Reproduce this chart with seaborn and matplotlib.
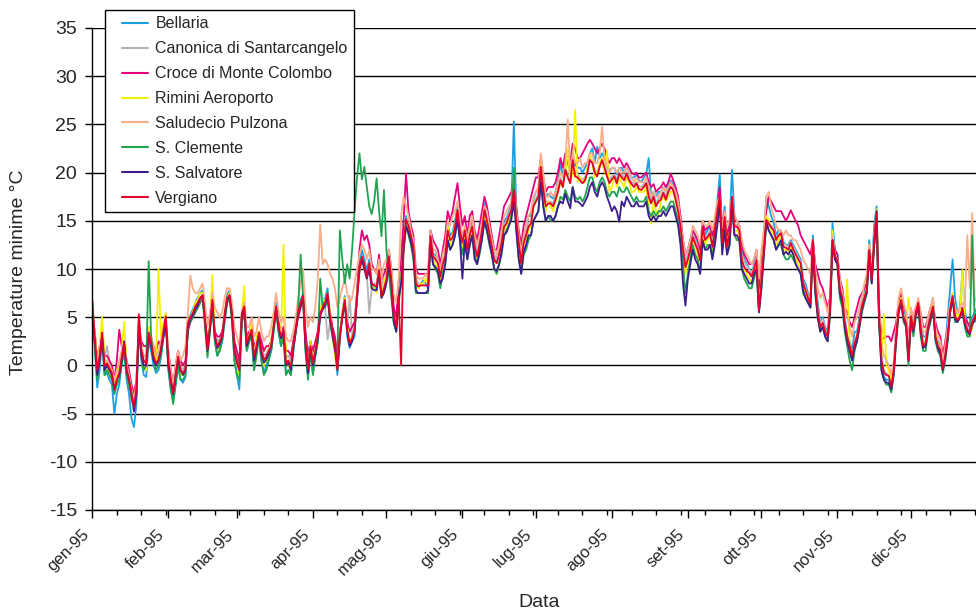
import numpy as np
import pandas as pd
import matplotlib
matplotlib.use("Agg")
import matplotlib.pyplot as plt
import matplotlib.dates as mdates
import matplotlib.transforms as mtransforms
from matplotlib.lines import Line2D
from matplotlib.legend_handler import HandlerLine2D
import seaborn as sns

# Daily minimum temperatures (°C), 1 Jan 1995 .. 31 Dec 1995
stations = [
    "Bellaria",
    "Canonica di Santarcangelo",
    "Croce di Monte Colombo",
    "Rimini Aeroporto",
    "Saludecio Pulzona",
    "S. Clemente",
    "S. Salvatore",
    "Vergiano",
]
station_colors = ["#1ba1e2", "#b4b4b4", "#e6007e", "#f2f200",
                  "#f9ae8a", "#22a352", "#3c1f8c", "#e4002b"]
month_labels = ["gen-95", "feb-95", "mar-95", "apr-95", "mag-95", "giu-95",
                "lug-95", "ago-95", "set-95", "ott-95", "nov-95", "dic-95"]

bellaria = [
    6.5, 2.0, -2.3, -0.5, 2.8, -1.0, -0.8, -1.5, -2.0, -5.0,
    -3.0, -2.0, 0.3, 1.5, -1.5, -3.0, -5.5, -6.4, -4.0, 4.5,
    0.5, -1.0, -1.2, 2.5, 1.5, 0.0, -0.8, -0.5, 0.8, 3.0,
    4.8, -0.5, -2.5, -3.5, -2.0, 0.0, -1.5, -1.8, -1.2, 4.0,
    5.2, 5.8, 6.5, 7.0, 7.5, 7.8, 4.5, 0.8, 3.8, 7.0,
    2.5, 1.0, 1.8, 2.5, 5.0, 7.3, 7.8, 5.0, 0.5, -1.0,
    -2.5, 5.0, 6.5, 1.5, 2.5, 3.5, -0.5, 1.5, 3.0, 0.5,
    -0.8, 0.0, 1.0, 1.5, 3.8, 6.5, 3.5, 2.0, 3.2, -0.8,
    -0.5, -1.0, 1.5, 3.5, 5.5, 6.8, 7.5, 1.5, -1.0, 1.5,
    -0.8, 1.0, 2.5, 5.0, 6.3, 7.0, 8.0, 4.5, 3.0, 1.5,
    -1.0, 3.0, 5.5, 7.2, 3.0, 1.8, 2.5, 3.0, 7.5, 10.5,
    12.0, 11.0, 9.8, 11.0, 8.5, 8.0, 8.0, 10.5, 7.0, 8.0,
    9.5, 12.0, 9.0, 4.5, 3.5, 7.5, 9.5, 12.5, 15.5, 14.0,
    13.8, 12.5, 8.3, 8.0, 8.5, 8.8, 8.5, 8.0, 14.0, 11.5,
    11.5, 11.0, 9.0, 10.8, 11.5, 14.6, 13.5, 13.8, 15.0, 16.5,
    14.5, 13.0, 14.2, 12.5, 14.0, 15.0, 13.0, 11.5, 12.5, 14.5,
    16.8, 15.5, 14.0, 12.5, 11.0, 10.8, 12.0, 13.5, 15.0, 15.3,
    16.0, 16.8, 25.3, 16.0, 13.5, 11.0, 13.5, 14.5, 15.5, 15.5,
    17.3, 18.0, 18.3, 21.0, 19.0, 17.5, 17.8, 17.5, 17.3, 18.0,
    19.2, 21.0, 19.5, 22.0, 21.0, 20.0, 22.0, 20.8, 20.5, 20.5,
    20.0, 20.5, 21.0, 22.0, 22.5, 21.0, 22.7, 21.5, 22.0, 21.5,
    21.0, 20.0, 20.5, 20.5, 19.8, 20.5, 20.5, 20.0, 20.5, 20.0,
    19.5, 19.5, 19.8, 19.2, 19.0, 19.5, 19.8, 21.5, 17.5, 18.0,
    17.5, 18.0, 18.0, 18.5, 18.0, 18.8, 19.2, 18.8, 18.0, 17.0,
    15.0, 13.0, 11.5, 12.0, 13.0, 14.0, 13.5, 12.5, 11.5, 15.0,
    13.5, 14.0, 14.5, 13.0, 15.0, 17.0, 19.8, 13.5, 16.5, 13.0,
    14.5, 20.3, 15.5, 15.0, 14.5, 12.0, 11.0, 10.5, 10.0, 9.5,
    10.5, 11.5, 6.5, 9.5, 13.0, 17.5, 16.5, 15.5, 14.8, 13.5,
    14.0, 14.0, 12.8, 12.5, 12.5, 13.0, 12.5, 12.0, 11.5, 11.0,
    9.0, 8.5, 7.5, 7.0, 13.5, 9.0, 6.5, 4.5, 5.0, 4.0,
    3.5, 6.5, 14.8, 12.0, 11.5, 8.5, 7.5, 5.0, 3.0, 2.5,
    1.5, 3.5, 3.5, 5.0, 6.5, 7.5, 8.5, 13.0, 9.5, 14.5,
    16.5, 5.5, 0.0, -1.2, -1.5, -1.5, -2.5, -0.2, 4.0, 6.5,
    7.5, 6.0, 5.0, 1.0, 5.5, 4.5, 5.0, 6.0, 4.5, 3.0,
    3.0, 4.5, 5.5, 7.0, 3.5, 2.5, 2.0, 0.0, 2.0, 5.0,
    8.0, 11.0, 7.0, 5.5, 6.0, 9.8, 5.5, 4.5, 4.0, 5.0,
    5.5, 6.0, 5.0, 5.5, 5.0,
]

canonica = [
    5.5, 3.5, 0.0, 1.5, 3.0, 0.8, 2.0, 0.5, -0.5, -2.0,
    -1.0, -0.3, 1.0, 2.0, 0.0, -1.0, -2.5, -3.8, -2.0, 4.5,
    2.0, 1.0, 0.8, 3.0, 2.5, 1.5, 0.5, 1.0, 2.0, 3.0,
    4.5, 1.0, -1.0, -2.5, -0.8, 1.2, 0.0, -0.5, 0.0, 4.0,
    5.0, 5.2, 6.0, 6.3, 6.8, 7.0, 5.0, 2.0, 4.2, 6.5,
    3.5, 2.5, 2.8, 3.2, 5.2, 6.8, 7.0, 5.5, 2.0, 1.0,
    0.2, 5.0, 6.0, 2.8, 3.2, 3.8, 1.5, 2.3, 3.5, 2.0,
    1.0, 1.2, 1.8, 2.5, 4.2, 6.0, 4.2, 3.3, 3.8, 0.8,
    1.0, 0.5, 2.3, 4.0, 5.5, 6.3, 7.0, 3.0, 0.2, 2.5,
    1.0, 2.0, 3.5, 5.5, 6.0, 6.0, 2.7, 4.5, 3.5, 2.5,
    0.5, 3.5, 5.0, 6.5, 4.0, 7.2, 3.0, 4.0, 7.0, 9.5,
    11.0, 10.0, 9.5, 5.4, 8.0, 8.5, 8.5, 10.0, 8.0, 9.5,
    10.0, 11.0, 9.0, 5.5, 4.5, 7.5, 9.0, 12.0, 14.5, 14.0,
    13.0, 12.0, 9.0, 8.5, 8.5, 8.5, 8.8, 9.0, 13.0, 11.5,
    11.2, 10.8, 9.5, 10.8, 11.5, 14.0, 13.2, 13.5, 14.5, 16.0,
    14.5, 13.0, 14.0, 12.3, 13.8, 14.5, 12.8, 11.8, 12.8, 14.2,
    16.0, 15.2, 14.0, 12.8, 11.5, 11.0, 12.0, 13.0, 14.5, 15.0,
    15.8, 16.5, 18.0, 15.5, 13.0, 11.2, 13.0, 14.0, 14.8, 15.0,
    16.8, 17.3, 17.8, 20.5, 18.5, 17.0, 17.0, 17.0, 16.8, 17.5,
    18.3, 19.5, 18.8, 20.5, 19.8, 19.2, 21.0, 20.0, 19.8, 19.5,
    19.3, 19.5, 20.2, 21.5, 21.2, 20.3, 20.0, 20.8, 21.5, 20.8,
    20.0, 19.3, 19.6, 19.8, 19.3, 20.0, 19.8, 19.5, 20.0, 19.5,
    19.0, 18.8, 19.0, 18.6, 18.5, 18.8, 19.0, 17.8, 17.2, 17.8,
    16.8, 17.3, 17.5, 18.0, 17.5, 18.2, 18.6, 18.4, 17.5, 16.3,
    14.8, 12.5, 10.8, 11.5, 12.3, 13.5, 13.0, 12.3, 11.3, 14.5,
    13.3, 13.5, 14.0, 12.8, 14.2, 16.0, 17.0, 13.0, 15.5, 12.8,
    14.0, 17.0, 14.6, 14.6, 14.3, 11.5, 10.8, 10.3, 10.0, 9.6,
    10.3, 11.0, 6.5, 9.0, 12.3, 15.0, 14.8, 14.5, 14.2, 13.3,
    13.6, 13.8, 12.6, 12.5, 12.3, 12.8, 12.3, 11.8, 11.2, 10.8,
    8.8, 8.0, 7.3, 6.8, 12.5, 8.5, 6.0, 4.5, 4.8, 3.8,
    3.2, 6.0, 13.0, 11.5, 11.0, 8.2, 7.2, 4.8, 3.2, 2.0,
    0.5, 2.5, 3.2, 4.6, 6.3, 7.2, 8.0, 12.3, 9.0, 13.2,
    15.5, 5.5, 1.0, -0.5, -0.8, -1.0, -2.0, -0.2, 3.3, 6.0,
    7.0, 5.3, 4.6, 1.0, 5.3, 4.0, 5.6, 6.6, 4.0, 2.3,
    2.6, 4.2, 5.3, 6.3, 3.3, 2.3, 1.8, 0.0, 1.3, 3.3,
    6.5, 7.5, 5.2, 5.0, 5.3, 6.0, 4.8, 4.0, 3.6, 4.6,
    5.2, 5.6, 5.0, 5.2, 4.6,
]

croce = [
    5.0, 3.5, 0.5, 2.0, 3.5, 1.0, 1.0, 0.5, 0.0, -1.5,
    0.5, 3.7, 2.0, 2.5, 0.5, -0.5, -2.0, -3.0, -1.5, 4.0,
    2.5, 2.0, 2.0, 3.0, 2.8, 2.0, 1.5, 2.5, 2.0, 3.0,
    4.0, 1.5, -0.5, -2.0, 0.0, 1.5, 0.5, 0.0, 0.5, 3.5,
    4.5, 5.0, 5.5, 6.0, 6.5, 7.0, 5.0, 2.5, 4.0, 6.0,
    3.5, 3.0, 3.0, 3.5, 5.0, 6.5, 7.0, 5.5, 2.5, 1.5,
    0.5, 4.5, 5.5, 3.0, 3.5, 4.0, 2.0, 2.5, 3.5, 2.5,
    1.5, 2.0, 2.0, 2.5, 4.0, 5.5, 4.5, 3.5, 4.0, 1.5,
    1.5, 1.0, 2.5, 4.0, 5.0, 6.0, 7.0, 3.5, 1.0, 2.5,
    1.5, 2.5, 3.5, 5.5, 6.0, 6.5, 7.0, 5.5, 4.0, 3.0,
    1.0, 3.5, 5.0, 6.5, 4.5, 3.5, 4.0, 4.5, 7.5, 12.0,
    14.0, 13.0, 13.5, 12.5, 10.5, 10.0, 9.5, 11.5, 9.0, 9.5,
    10.0, 12.0, 10.0, 6.0, 5.0, 8.5, 11.0, 15.0, 19.9, 16.0,
    14.5, 13.5, 10.0, 9.5, 9.5, 9.5, 9.5, 9.5, 14.0, 13.0,
    12.5, 12.0, 10.5, 12.0, 13.5, 16.0, 15.0, 16.0, 17.5, 18.9,
    16.5, 14.5, 15.5, 13.5, 15.5, 16.0, 14.0, 13.0, 14.5, 16.0,
    17.5, 16.5, 15.0, 13.5, 12.0, 12.0, 13.5, 15.0, 16.5, 17.0,
    17.5, 18.0, 19.5, 16.5, 14.0, 12.5, 14.5, 15.5, 16.5, 17.5,
    18.5, 19.5, 19.5, 21.5, 19.5, 18.0, 18.5, 18.5, 18.5, 19.0,
    20.0, 21.5, 20.5, 22.0, 22.0, 21.0, 23.0, 22.5, 21.5, 21.5,
    22.0, 22.5, 23.0, 23.4, 23.0, 22.5, 22.0, 22.5, 23.0, 22.5,
    21.5, 21.0, 21.5, 21.5, 21.0, 21.5, 21.0, 20.5, 21.0, 20.5,
    20.0, 19.8, 20.0, 19.5, 19.5, 19.8, 20.0, 19.0, 18.5, 18.8,
    18.0, 18.3, 18.5, 19.0, 18.5, 19.0, 19.9, 19.2, 18.5, 17.5,
    15.5, 13.0, 11.5, 12.0, 13.0, 14.0, 13.5, 13.0, 12.0, 15.0,
    14.0, 14.3, 14.5, 13.5, 15.0, 16.5, 18.5, 14.0, 16.0, 13.5,
    14.5, 17.0, 15.0, 15.0, 14.5, 12.5, 11.5, 11.0, 10.5, 10.5,
    11.0, 12.0, 8.0, 11.0, 13.5, 16.0, 17.5, 17.0, 16.5, 16.0,
    16.0, 16.0, 15.5, 15.0, 15.5, 16.1, 15.5, 15.0, 14.5, 13.5,
    13.0, 12.5, 12.0, 11.5, 13.0, 10.5, 9.5, 8.5, 8.0, 7.0,
    6.0, 7.0, 13.0, 12.0, 11.5, 9.0, 8.0, 6.0, 5.5, 4.5,
    4.0, 5.0, 6.0, 7.0, 7.5, 8.0, 8.5, 11.5, 9.5, 12.5,
    15.0, 6.0, 3.0, 2.8, 3.0, 3.0, 2.5, 3.5, 4.5, 6.5,
    7.5, 6.0, 5.5, 2.5, 5.5, 5.0, 6.0, 6.5, 5.5, 4.0,
    4.0, 5.0, 6.0, 6.5, 4.5, 3.5, 3.0, 1.0, 2.5, 4.0,
    6.0, 6.5, 5.5, 5.0, 5.5, 6.0, 5.0, 4.5, 4.0, 4.5,
    5.0, 5.5, 5.0, 5.0, 4.8,
]

rimini = [
    6.0, 3.5, 0.0, 2.0, 5.0, 1.0, 0.0, -1.0, -1.0, -2.0,
    -1.0, 0.0, 1.5, 4.5, 0.0, -1.5, -3.5, -4.0, -2.0, 4.5,
    1.0, 0.0, -0.5, 4.0, 3.0, 1.5, 0.5, 10.0, 3.0, 4.5,
    5.5, 1.0, -1.5, -2.5, -1.0, 1.0, -1.0, -1.0, -0.5, 4.5,
    5.0, 5.5, 6.5, 6.8, 7.5, 7.5, 4.0, 1.0, 4.5, 9.4,
    3.0, 1.5, 2.5, 3.0, 5.5, 7.0, 7.5, 5.0, 1.0, 0.0,
    -1.0, 5.5, 8.2, 2.0, 3.0, 4.5, 0.5, 3.0, 3.5, 1.0,
    0.0, 0.5, 1.5, 2.5, 4.5, 6.0, 4.0, 3.0, 12.5, 0.5,
    0.0, -0.5, 2.0, 3.5, 5.5, 6.5, 7.0, 2.0, -0.5, 2.5,
    0.0, 1.5, 3.0, 5.5, 7.0, 6.5, 7.5, 5.5, 3.0, 1.0,
    -0.5, 3.0, 5.5, 7.0, 4.0, 2.5, 3.0, 3.5, 7.5, 10.0,
    11.0, 10.5, 9.0, 10.5, 8.0, 8.0, 7.5, 10.5, 7.0, 8.5,
    9.5, 11.0, 8.5, 4.5, 3.5, 6.5, 9.0, 12.0, 15.0, 14.0,
    13.0, 12.0, 8.0, 8.0, 8.5, 8.5, 9.0, 8.5, 13.0, 11.0,
    10.5, 10.0, 9.0, 10.5, 11.0, 14.5, 12.5, 13.5, 14.5, 16.0,
    13.5, 12.0, 13.5, 11.5, 13.0, 14.5, 11.5, 11.0, 12.0, 13.5,
    15.5, 14.5, 13.0, 12.0, 10.0, 9.5, 10.5, 12.0, 14.5, 14.0,
    15.0, 16.0, 18.5, 15.0, 12.0, 10.5, 12.5, 13.0, 14.0, 14.5,
    16.5, 17.0, 17.5, 21.5, 18.5, 16.0, 17.0, 16.5, 16.0, 17.0,
    18.0, 19.0, 18.5, 20.0, 22.5, 19.0, 20.0, 26.5, 19.0, 19.5,
    19.0, 19.0, 20.5, 22.0, 21.0, 19.5, 20.0, 21.0, 21.5, 20.0,
    22.3, 18.0, 18.5, 19.5, 18.5, 19.5, 19.0, 18.5, 19.5, 19.0,
    18.0, 18.0, 18.5, 18.0, 18.0, 18.0, 18.5, 16.5, 14.7, 17.0,
    16.0, 15.6, 17.0, 17.5, 17.0, 17.5, 18.0, 18.0, 17.0, 16.0,
    14.0, 11.5, 9.5, 10.5, 11.5, 13.0, 12.5, 11.5, 10.5, 14.0,
    12.5, 13.0, 13.5, 12.0, 13.5, 16.5, 17.0, 12.5, 15.5, 12.0,
    13.5, 17.0, 14.0, 14.0, 13.5, 10.5, 10.0, 9.5, 9.0, 8.5,
    9.5, 10.5, 6.0, 9.0, 12.5, 15.5, 15.0, 14.0, 13.5, 12.5,
    13.0, 13.5, 12.0, 12.0, 11.5, 12.5, 11.5, 11.0, 10.5, 10.0,
    8.0, 7.5, 6.5, 6.0, 12.5, 8.0, 5.0, 3.5, 4.0, 3.0,
    2.5, 6.0, 14.0, 11.0, 10.5, 7.5, 6.5, 4.5, 8.9, 2.0,
    1.0, 2.0, 2.5, 4.0, 6.0, 7.0, 8.0, 12.5, 9.5, 13.0,
    16.2, 5.5, 1.0, 5.3, 0.0, -0.5, -2.0, 0.0, 3.0, 6.0,
    7.0, 5.0, 4.0, 7.0, 5.0, 4.0, 5.5, 6.5, 3.5, 2.0,
    2.5, 4.0, 5.0, 6.5, 3.5, 2.0, 1.5, -0.5, 1.0, 3.5,
    6.0, 7.5, 5.5, 5.0, 5.5, 9.9, 4.5, 3.5, 3.0, 4.0,
    5.0, 5.5, 4.5, 5.0, 4.5,
]

saludecio = [
    6.0, 3.0, 0.5, 1.5, 3.0, 0.5, 0.5, 0.0, -0.5, -1.5,
    -0.5, 0.5, 1.5, 2.5, 0.0, -1.0, -2.5, -3.5, -2.0, 5.0,
    2.0, 1.0, 1.0, 3.5, 3.0, 2.0, 1.0, 1.5, 2.5, 4.0,
    5.0, 1.5, -0.5, -2.0, 0.0, 1.5, 0.5, 1.0, 2.0, 5.5,
    9.3, 8.0, 7.5, 7.5, 8.0, 8.5, 6.5, 4.0, 5.5, 7.5,
    6.0, 5.5, 5.0, 5.5, 7.0, 8.0, 8.0, 6.5, 4.0, 3.0,
    2.0, 5.5, 6.5, 4.0, 4.0, 5.0, 3.0, 3.5, 5.0, 3.5,
    2.5, 3.0, 3.0, 4.0, 5.5, 7.5, 5.5, 4.5, 5.0, 3.0,
    2.5, 2.5, 3.5, 5.0, 7.0, 8.5, 10.0, 6.0, 4.0, 5.0,
    4.5, 6.0, 9.0, 14.6, 10.5, 11.0, 10.5, 9.5, 9.0, 8.0,
    6.0, 7.0, 8.0, 9.0, 7.5, 6.5, 7.0, 8.5, 10.0, 11.5,
    12.5, 12.0, 11.0, 12.0, 10.0, 10.0, 9.5, 11.0, 9.0, 10.5,
    11.0, 12.0, 10.0, 7.5, 6.5, 9.0, 15.5, 17.5, 16.5, 15.5,
    14.0, 13.0, 9.5, 9.0, 9.0, 9.0, 9.5, 9.0, 14.0, 12.0,
    12.0, 11.0, 10.0, 11.5, 12.5, 15.0, 14.5, 15.5, 16.0, 17.0,
    15.0, 13.5, 14.5, 13.0, 14.5, 15.5, 13.5, 12.5, 13.5, 15.0,
    16.5, 16.0, 14.5, 13.0, 12.0, 11.5, 12.5, 14.0, 15.5, 16.0,
    16.5, 17.0, 20.0, 16.0, 13.5, 11.5, 13.5, 14.5, 15.5, 16.0,
    17.5, 18.0, 18.5, 22.0, 20.0, 17.5, 17.5, 18.0, 17.5, 18.0,
    19.0, 20.0, 19.5, 21.0, 25.5, 20.0, 22.0, 21.0, 21.0, 21.5,
    20.5, 21.0, 21.0, 22.0, 22.0, 21.0, 21.0, 22.0, 24.8, 21.5,
    20.5, 20.0, 20.5, 20.5, 20.0, 20.5, 20.0, 20.0, 20.5, 20.0,
    19.5, 19.0, 19.5, 19.0, 19.0, 19.0, 19.5, 18.5, 17.5, 18.0,
    17.5, 17.5, 18.0, 18.5, 18.0, 18.5, 19.0, 18.5, 18.0, 17.0,
    15.0, 13.0, 11.5, 12.0, 13.0, 14.5, 14.0, 13.5, 12.5, 15.0,
    14.5, 14.5, 15.0, 14.0, 15.5, 17.0, 17.5, 14.0, 16.0, 14.5,
    15.0, 17.5, 15.5, 15.0, 14.5, 13.0, 12.0, 11.5, 11.0, 10.5,
    11.0, 12.0, 9.0, 12.0, 14.0, 17.5, 18.0, 16.5, 15.5, 14.5,
    14.0, 14.0, 13.5, 14.0, 13.5, 13.5, 13.0, 13.0, 12.5, 12.0,
    11.0, 10.5, 10.0, 9.5, 13.0, 10.0, 8.0, 7.0, 7.5, 6.5,
    5.5, 7.0, 13.5, 11.5, 11.0, 9.0, 7.5, 6.0, 5.0, 4.0,
    3.0, 4.5, 5.0, 6.0, 7.0, 8.5, 9.5, 12.5, 10.0, 13.5,
    15.5, 6.0, 2.0, 1.0, 0.5, 0.0, -1.0, 0.5, 4.0, 7.0,
    8.0, 6.5, 5.5, 2.0, 6.0, 5.0, 6.0, 7.0, 5.5, 3.5,
    3.5, 5.0, 6.0, 7.0, 4.0, 3.0, 2.5, 0.5, 2.0, 4.0,
    6.5, 7.0, 6.0, 5.5, 6.0, 6.5, 6.0, 13.5, 8.0, 15.8,
    7.0, 6.5, 6.0, 5.5, 5.0,
]

s_clemente = [
    5.5, 2.0, -1.5, 0.5, 3.0, -1.0, -0.5, -1.0, -1.5, -3.0,
    -2.0, -1.5, 0.0, 1.5, -1.0, -2.0, -3.5, -4.3, -3.0, 4.5,
    1.0, -0.5, 0.0, 10.8, 3.0, 0.5, -0.5, 0.0, 1.0, 3.0,
    4.5, 0.0, -2.5, -4.0, -2.0, 0.0, -1.5, -1.5, -1.0, 4.0,
    4.5, 5.0, 5.5, 6.0, 6.5, 7.0, 4.0, 1.0, 3.5, 6.0,
    2.5, 1.0, 1.5, 2.5, 4.5, 6.5, 7.0, 4.5, 0.5, -1.0,
    -1.5, 4.5, 5.5, 1.5, 2.5, 3.0, -0.5, 1.0, 3.0, 0.5,
    -1.0, -0.5, 0.5, 1.5, 3.5, 5.5, 3.5, 2.0, 3.0, -1.0,
    -0.5, -1.0, 1.5, 3.5, 6.0, 11.5, 7.0, 1.5, -1.5, 1.5,
    -1.0, 1.0, 2.5, 9.0, 6.0, 6.0, 7.0, 4.5, 3.0, 1.5,
    1.0, 14.0, 11.0, 8.5, 10.5, 9.0, 12.0, 16.0, 19.5, 22.0,
    19.3, 20.6, 18.5, 16.5, 15.7, 17.0, 19.4, 16.0, 13.4, 18.2,
    12.0, 9.5, 7.0, 4.5, 3.5, 6.5, 8.5, 12.0, 14.5, 13.5,
    12.5, 11.0, 7.5, 7.5, 7.5, 7.5, 7.5, 7.5, 12.5, 10.5,
    10.0, 9.5, 8.0, 9.5, 10.5, 13.0, 12.0, 12.5, 13.5, 15.0,
    13.0, 11.5, 13.0, 11.0, 12.5, 13.5, 11.5, 10.5, 11.5, 13.0,
    15.0, 14.0, 12.5, 11.5, 10.0, 9.5, 10.5, 11.5, 13.5, 14.0,
    14.5, 15.5, 20.5, 14.0, 11.0, 9.5, 11.5, 12.0, 13.0, 13.5,
    15.0, 15.5, 16.0, 19.5, 16.5, 15.0, 15.5, 15.0, 15.0, 15.5,
    16.5, 17.5, 17.2, 18.2, 17.5, 17.0, 18.5, 17.5, 17.2, 17.5,
    17.0, 17.5, 18.5, 19.5, 19.5, 18.5, 18.0, 19.0, 19.5, 19.0,
    18.0, 17.5, 18.0, 18.0, 17.5, 18.5, 18.0, 18.0, 18.5, 18.0,
    17.5, 17.0, 17.5, 17.0, 17.0, 17.0, 17.5, 16.0, 15.5, 16.0,
    15.5, 16.0, 16.0, 16.5, 16.0, 16.5, 17.0, 17.0, 16.0, 15.0,
    13.0, 10.5, 7.5, 9.5, 11.0, 12.5, 11.5, 11.0, 9.5, 13.0,
    12.0, 12.5, 12.5, 11.5, 13.0, 15.0, 16.5, 12.0, 14.5, 11.5,
    12.5, 16.5, 13.5, 13.0, 13.0, 10.0, 9.0, 8.5, 8.0, 8.0,
    9.0, 10.0, 5.5, 8.0, 11.5, 14.5, 14.0, 13.5, 13.0, 12.0,
    12.5, 12.5, 11.5, 11.0, 11.0, 11.5, 11.0, 10.5, 10.0, 9.5,
    7.5, 7.0, 6.5, 6.0, 12.0, 7.5, 5.0, 3.5, 4.0, 3.0,
    2.5, 5.0, 12.5, 11.0, 10.5, 7.0, 6.0, 3.5, 2.0, 0.5,
    -0.5, 1.5, 2.5, 4.0, 5.5, 6.5, 7.5, 11.5, 8.5, 12.5,
    15.0, 4.5, -0.5, -1.5, -2.0, -2.0, -2.8, -1.0, 2.5, 5.5,
    6.5, 4.5, 4.0, 0.0, 4.5, 3.0, 5.0, 6.0, 3.0, 1.5,
    1.5, 3.5, 4.5, 6.0, 2.5, 1.5, 1.0, -0.8, 0.5, 2.5,
    5.5, 7.0, 4.5, 4.5, 5.0, 5.5, 4.0, 3.0, 3.0, 13.5,
    4.5, 5.0, 4.5, 4.5, 4.0,
]

s_salvatore = [
    5.0, 2.5, -1.0, 0.5, 3.0, -0.5, 0.0, -0.5, -1.0, -2.5,
    -1.5, -1.0, 0.5, 2.5, -0.5, -1.5, -3.0, -4.8, -3.0, 4.0,
    1.0, 0.0, 0.0, 3.0, 2.0, 0.5, 0.0, 0.5, 1.5, 3.0,
    4.5, 0.0, -1.5, -3.0, -1.0, 0.5, -0.5, -1.0, -0.5, 4.0,
    4.8, 5.2, 5.8, 6.2, 7.0, 7.2, 4.5, 1.5, 3.8, 6.5,
    3.0, 1.8, 2.2, 3.0, 5.0, 6.8, 7.2, 5.0, 1.5, 0.3,
    -0.5, 5.0, 5.8, 2.0, 2.8, 3.5, 0.5, 1.8, 3.2, 1.2,
    0.3, 0.6, 1.2, 2.0, 4.0, 6.0, 3.8, 2.8, 3.5, 0.0,
    0.3, -0.5, 1.8, 3.5, 5.2, 6.3, 7.0, 2.0, -0.8, 1.8,
    0.0, 1.2, 2.8, 5.2, 5.8, 6.3, 7.2, 4.8, 3.2, 1.8,
    -0.5, 2.8, 5.0, 6.5, 3.5, 2.0, 2.5, 3.5, 7.0, 10.0,
    11.0, 10.0, 9.0, 10.0, 8.0, 7.8, 7.8, 9.5, 7.0, 7.5,
    8.5, 10.5, 8.5, 4.5, 3.5, 7.0, 8.5, 12.0, 14.5, 13.8,
    12.8, 11.5, 7.8, 7.5, 7.5, 7.5, 7.5, 7.8, 12.8, 10.5,
    10.2, 9.8, 8.5, 9.0, 10.5, 13.0, 12.0, 12.5, 13.5, 15.2,
    13.0, 9.0, 13.0, 11.0, 12.5, 13.5, 11.0, 10.5, 11.8, 13.2,
    15.0, 14.0, 12.8, 11.5, 10.0, 9.8, 10.5, 11.8, 13.5, 13.8,
    14.5, 15.2, 17.0, 14.0, 11.0, 9.5, 11.8, 12.5, 13.5, 13.5,
    15.0, 15.5, 16.0, 19.0, 16.5, 15.0, 15.5, 15.5, 15.0, 15.5,
    16.5, 17.0, 16.8, 17.8, 17.0, 16.3, 18.5, 17.0, 17.0, 16.8,
    16.5, 17.0, 17.5, 18.5, 19.0, 18.0, 17.5, 18.5, 19.0, 18.5,
    17.5, 16.8, 16.0, 16.5, 16.0, 14.9, 17.0, 16.5, 17.5, 17.0,
    16.5, 16.5, 17.0, 16.5, 16.5, 16.5, 17.0, 15.5, 15.0, 15.5,
    15.0, 15.5, 15.5, 16.0, 15.5, 16.0, 16.5, 16.5, 15.5, 14.5,
    12.5, 8.5, 6.2, 9.0, 10.5, 12.0, 11.0, 10.5, 9.5, 13.0,
    12.0, 12.0, 12.5, 11.0, 12.5, 14.5, 17.0, 11.5, 14.0, 11.5,
    12.5, 17.0, 13.5, 13.5, 13.0, 10.0, 9.5, 9.0, 8.5, 8.5,
    9.5, 10.0, 5.5, 8.0, 11.5, 15.0, 14.0, 13.5, 13.0, 12.0,
    12.5, 13.0, 11.5, 11.8, 11.5, 12.0, 11.5, 10.5, 10.0, 9.5,
    7.8, 7.0, 6.5, 6.0, 12.5, 7.5, 5.0, 3.5, 4.0, 3.0,
    2.5, 5.5, 13.0, 11.0, 10.5, 7.5, 6.5, 4.0, 2.5, 1.5,
    0.5, 1.8, 2.5, 4.0, 5.8, 6.8, 7.5, 11.8, 8.5, 12.5,
    16.0, 4.5, -0.5, -1.5, -1.8, -1.8, -2.5, -0.8, 2.8, 5.5,
    6.5, 4.8, 4.2, 0.5, 4.8, 3.5, 5.2, 6.2, 3.5, 1.8,
    2.0, 3.8, 4.8, 6.0, 2.8, 1.8, 1.2, -0.5, 0.8, 2.8,
    5.5, 7.0, 4.8, 4.5, 5.0, 5.8, 4.3, 3.5, 3.2, 4.2,
    4.8, 5.2, 4.6, 4.8, 4.3,
]

vergiano = [
    6.7, 3.0, -0.5, 1.0, 3.4, 0.0, 0.2, -0.3, -0.8, -2.5,
    -1.5, -0.8, 0.8, 2.3, -0.5, -1.5, -3.0, -4.3, -2.5, 5.3,
    1.6, 0.5, 0.2, 3.4, 2.3, 1.0, 0.2, 0.6, 1.6, 3.5,
    5.1, 0.6, -1.5, -2.9, -1.1, 0.9, -0.5, -0.8, -0.4, 4.4,
    5.0, 5.4, 6.1, 6.5, 7.0, 7.3, 4.7, 1.6, 4.0, 6.8,
    3.0, 2.0, 2.5, 3.0, 5.4, 7.0, 7.3, 5.4, 1.6, 0.5,
    -0.4, 5.4, 6.1, 2.3, 3.0, 3.7, 0.9, 2.0, 3.4, 1.5,
    0.6, 0.9, 1.5, 2.0, 4.0, 6.1, 4.0, 3.0, 3.7, 0.2,
    0.5, -0.1, 2.0, 3.7, 5.4, 6.5, 7.2, 2.3, -0.4, 2.0,
    0.2, 1.5, 3.0, 5.4, 6.0, 6.5, 7.5, 5.0, 3.5, 2.0,
    -0.4, 3.0, 5.1, 6.8, 3.7, 2.3, 2.8, 3.7, 7.1, 9.9,
    11.3, 10.5, 9.2, 10.6, 8.5, 8.3, 8.2, 9.9, 7.2, 8.0,
    8.9, 11.3, 8.9, 5.1, 4.0, 7.2, 0.0, 12.7, 15.1, 14.5,
    13.4, 12.3, 8.5, 8.2, 8.3, 8.3, 8.3, 8.3, 13.4, 11.3,
    11.0, 10.6, 9.2, 10.5, 11.3, 14.0, 13.0, 13.2, 14.4, 16.1,
    14.0, 12.7, 14.0, 12.0, 13.5, 14.4, 12.3, 11.3, 12.5, 14.0,
    16.1, 15.0, 13.7, 12.3, 10.9, 10.6, 11.5, 12.7, 14.4, 14.7,
    15.5, 16.1, 18.2, 15.0, 12.7, 10.6, 12.7, 13.5, 14.4, 14.7,
    16.5, 17.0, 17.5, 20.6, 18.2, 16.5, 16.8, 16.8, 16.5, 17.2,
    18.0, 19.2, 18.5, 20.3, 19.5, 18.9, 21.3, 19.6, 19.5, 19.2,
    18.9, 19.2, 20.0, 21.3, 21.0, 20.0, 19.6, 20.6, 21.3, 20.5,
    19.6, 18.9, 19.3, 19.6, 18.9, 19.9, 19.5, 19.2, 19.9, 19.2,
    18.8, 18.5, 18.9, 18.3, 18.2, 18.5, 18.9, 17.5, 16.8, 17.5,
    16.5, 17.0, 17.2, 17.9, 17.2, 18.0, 18.5, 18.2, 17.2, 16.0,
    14.4, 12.0, 10.2, 11.0, 12.0, 13.3, 12.6, 12.0, 10.9, 14.4,
    13.0, 13.3, 13.7, 12.3, 14.0, 16.0, 17.5, 12.7, 15.4, 12.3,
    13.7, 17.5, 14.4, 14.4, 14.0, 10.9, 10.2, 9.8, 9.6, 9.2,
    10.0, 10.9, 5.7, 8.9, 12.0, 15.1, 14.7, 14.3, 14.0, 13.0,
    13.5, 13.7, 12.3, 12.2, 12.0, 12.7, 12.0, 11.5, 11.0, 10.6,
    8.5, 7.8, 7.0, 6.4, 13.0, 8.2, 5.5, 4.0, 4.4, 3.5,
    3.0, 5.8, 13.0, 11.3, 10.9, 7.9, 7.0, 4.5, 3.0, 2.0,
    1.0, 2.3, 3.0, 4.4, 6.1, 7.0, 7.9, 12.0, 8.9, 13.0,
    15.8, 5.1, 0.5, -0.8, -1.0, -1.1, -2.2, -0.5, 3.0, 5.8,
    6.8, 5.0, 4.4, 0.5, 5.1, 3.7, 5.5, 6.5, 3.7, 2.0,
    2.3, 4.0, 5.1, 6.1, 3.0, 2.0, 1.6, -0.4, 1.0, 3.0,
    5.8, 7.2, 5.0, 4.7, 5.1, 5.8, 4.5, 3.7, 3.4, 4.4,
    5.0, 5.5, 4.8, 5.0, 4.5,
]

series = [bellaria, canonica, croce, rimini, saludecio,
          s_clemente, s_salvatore, vergiano]

sns.set_style("ticks")
plt.rcParams["font.family"] = ["Liberation Sans", "DejaVu Sans"]
plt.rcParams["axes.unicode_minus"] = False

days = pd.date_range("1995-01-01", periods=365, freq="D")
frames = []
for name, vals in zip(stations, series):
    assert len(vals) == 365, (name, len(vals))
    frames.append(pd.DataFrame({"Data": days, "Tmin": vals, "Stazione": name}))
df = pd.concat(frames, ignore_index=True)

W, H = 976, 612
fig = plt.figure(figsize=(W / 100, H / 100), dpi=100)
# plot area: left edge at x=92, runs past the right border of the figure
ax = fig.add_axes([92.3 / W, (H - 510) / H, 894.6 / W, 482 / H])

sns.lineplot(data=df, x="Data", y="Tmin", hue="Stazione", hue_order=stations,
             palette=dict(zip(stations, station_colors)), estimator=None,
             linewidth=1.3, legend=False, ax=ax)

start = mdates.date2num(pd.Timestamp("1995-01-01"))
end = mdates.date2num(pd.Timestamp("1996-01-01"))
ax.set_xlim(start, end)
ax.set_ylim(-15, 35)
ax.set_yticks(np.arange(-15, 36, 5))
ax.yaxis.grid(True, color="black", linewidth=1.0)
ax.xaxis.grid(False)
ax.set_axisbelow(True)

major = [mdates.date2num(pd.Timestamp(1995, m, 1)) for m in range(1, 13)]
minor = [start + 10 * k for k in range(1, 37)]
ax.set_xticks(major)
ax.set_xticklabels(month_labels, rotation=45, ha="right", va="center",
                   rotation_mode="anchor", fontsize=12)
ax.set_xticks(minor, minor=True)
ax.tick_params(axis="x", which="major", length=6, width=1, pad=10,
               direction="out", color="black")
ax.tick_params(axis="x", which="minor", length=3.5, width=1,
               direction="out", color="black")
ax.tick_params(axis="y", length=5, width=1, pad=6, labelsize=14,
               direction="out", color="black")

# month labels sit a little to the left of their ticks
shift = mtransforms.ScaledTranslation(-6 / 100, 0, fig.dpi_scale_trans)
for lab in ax.get_xticklabels():
    lab.set_transform(lab.get_transform() + shift)

for side in ("top", "right"):
    ax.spines[side].set_visible(False)
for side in ("left", "bottom"):
    ax.spines[side].set_color("black")
    ax.spines[side].set_linewidth(1.0)

ax.set_xlabel("Data", fontsize=14)
ax.xaxis.set_label_coords(0.5, -0.174)
ax.set_ylabel("Temperature minime °C", fontsize=14)
ax.yaxis.set_label_coords(-0.083, 0.494)
ax.yaxis.label.set_verticalalignment("center")

handles = [Line2D([], [], color=c, linewidth=1.5) for c in station_colors]
leg = ax.legend(handles, stations, loc="upper left",
                bbox_to_anchor=(105 / W, 1 - 10 / H),
                bbox_transform=fig.transFigure, frameon=True, fancybox=False,
                shadow=False, borderpad=0.4, borderaxespad=0,
                handlelength=2.3, handletextpad=0.45, labelspacing=0.62,
                fontsize=11.5,
                handler_map={Line2D: HandlerLine2D(xpad=0.66)})
frame = leg.get_frame()
frame.set_edgecolor("black")
frame.set_linewidth(1.0)
frame.set_facecolor("white")
frame.set_alpha(1.0)

fig.savefig("out.png", dpi=100)
